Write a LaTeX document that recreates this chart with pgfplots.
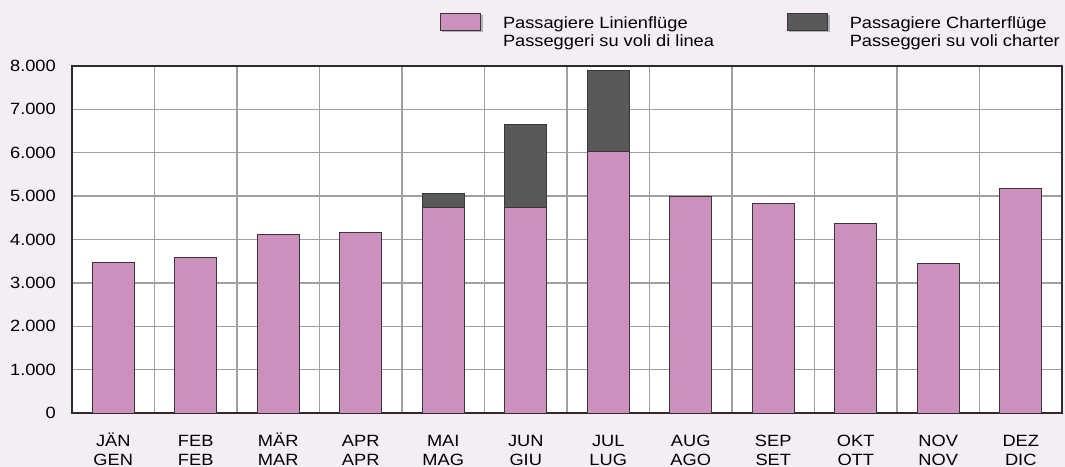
\documentclass[border=0pt]{standalone}
\usepackage{graphicx}
\usepackage{pgfplots}
\pgfplotsset{compat=1.18}
\usepackage{fontspec}
\setmainfont{Liberation Sans}
\usetikzlibrary{backgrounds}
\definecolor{bgc}{HTML}{F4EDF5}
\definecolor{linien}{HTML}{CC90BC}
\definecolor{charter}{HTML}{58595B}
\definecolor{gridc}{HTML}{A0A0A0}
\definecolor{framec}{HTML}{2E2A2E}
\definecolor{barline}{HTML}{3A3539}
\newcommand{\lf}{\fontsize{16.3bp}{18.6bp}\selectfont}
\newcommand{\sx}[1]{\scalebox{1.12}[1]{#1}}
\newcommand{\fr}{\rule{0pt}{15.5bp}}
\newcommand{\ml}[2]{\fr\sx{#1}\\\sx{#2}}
\begin{document}
\begin{tikzpicture}
\begin{axis}[
  name=ax, at={(0,0)}, anchor=south west,
  scale only axis, width=990bp, height=347bp,
  xmin=-0.5, xmax=11.5, ymin=0, ymax=8000,
  ybar stacked, bar width=42bp,
  axis background/.style={fill=white},
  axis line style={framec, line width=1.1bp},
  xtick={0,...,11},
  xticklabels={{\ml{JÄN}{GEN}},{\ml{FEB}{FEB}},{\ml{MÄR}{MAR}},{\ml{APR}{APR}},{\ml{MAI}{MAG}},{\ml{JUN}{GIU}},{\ml{JUL}{LUG}},{\ml{AUG}{AGO}},{\ml{SEP}{SET}},{\ml{OKT}{OTT}},{\ml{NOV}{NOV}},{\ml{DEZ}{DIC}}},
  minor xtick={0.5,1.5,...,10.5},
  ytick={0,1000,...,8000},
  yticklabel={\sx{\pgfmathprintnumber{\tick}}},
  major tick length=0pt, minor tick length=0pt,
  xmajorgrids=false, xminorgrids=true, ymajorgrids=true,
  major grid style={gridc, line width=1.3bp},
  minor grid style={gridc, line width=1.3bp},
  scaled y ticks=false,
  /pgf/number format/1000 sep={.},
  /pgf/number format/assume math mode=true,
  tick label style={font=\lf},
  xticklabel style={align=center, inner sep=0pt, anchor=north, yshift=-18bp},
  yticklabel style={inner sep=0pt, anchor=east, xshift=-16bp},
  legend columns=2,
  legend style={draw=none, fill=none, font=\lf, inner sep=0pt,
    at={(1,1)}, anchor=north east, yshift=52.7bp,
    cells={align=left, inner sep=0pt},
    /tikz/every odd column/.append style={column sep=18bp},
    /tikz/every even column/.append style={column sep=71bp},
  },
  legend image code/.code={
    \fill[black!30] (1.8bp,0.3bp) rectangle (41.8bp,17bp);
    \draw[#1, line width=0.9bp] (0bp,1.5bp) rectangle (40bp,18.2bp);
  },
]
\addplot[fill=linien, draw=barline, line width=0.9bp] coordinates {
  (0,3460) (1,3580) (2,4120) (3,4160) (4,4740) (5,4735)
  (6,6025) (7,4985) (8,4820) (9,4360) (10,3455) (11,5175)};
\addlegendentry{\sx{Passagiere Linienflüge}\\\sx{Passeggeri su voli di linea}}
\addplot[fill=charter, draw=barline, line width=0.9bp] coordinates {
  (0,0) (1,0) (2,0) (3,0) (4,322) (5,1920)
  (6,1866) (7,0) (8,0) (9,0) (10,0) (11,0)};
\addlegendentry{\sx{Passagiere Charterflüge}\\\sx{Passeggeri su voli charter}}
\end{axis}
\begin{scope}[on background layer]
  \fill[bgc] ([xshift=-72bp,yshift=-54bp]ax.south west) rectangle ([xshift=3bp,yshift=66bp]ax.north east);
\end{scope}
\end{tikzpicture}
\end{document}
